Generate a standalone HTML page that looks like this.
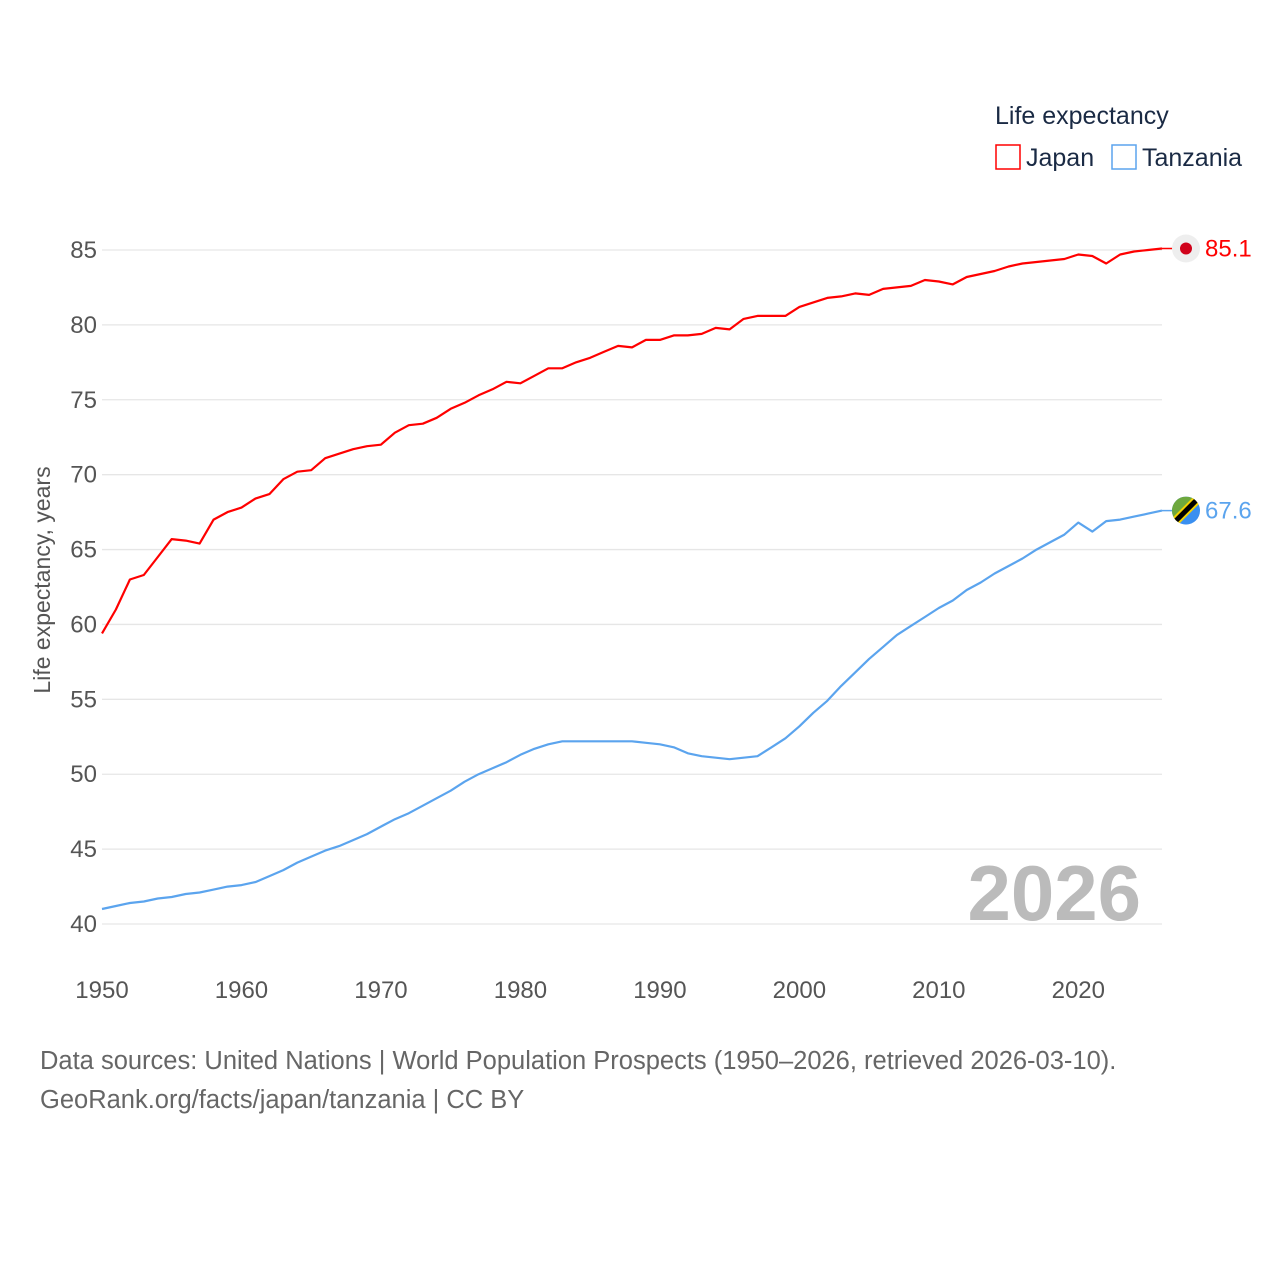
<!DOCTYPE html>
<html><head><meta charset="utf-8"><style>
body{margin:0;background:#fff;font-family:"Liberation Sans",sans-serif}
svg text{font-family:"Liberation Sans",sans-serif}
</style></head><body>
<svg width="1280" height="1280" viewBox="0 0 1280 1280">
<g id="grid"></g>
<g id="yticks"></g>
<g id="xticks"></g>
<text x="50" y="580" transform="rotate(-90 50 580)" text-anchor="middle" font-size="23" fill="#555">Life expectancy, years</text>
<text x="1141" y="920" text-anchor="end" font-size="78" font-weight="bold" fill="#bbb">2026</text>
<g id="series"></g>
<g>
<text x="995" y="124" font-size="25" fill="#1a2a44">Life expectancy</text>
<g><rect x="996" y="145" width="24" height="24" fill="none" stroke="#f00" stroke-width="1.5"/><text x="1026" y="166" font-size="25" fill="#1a2a44">Japan</text></g>
<g><rect x="1112" y="145" width="24" height="24" fill="none" stroke="#5ba4ee" stroke-width="1.5"/><text x="1142" y="166" font-size="25" fill="#1a2a44">Tanzania</text></g>
</g>
<text x="40" y="1069" font-size="25.5" fill="#666">Data sources: United Nations | World Population Prospects (1950–2026, retrieved 2026-03-10).</text>
<text x="40" y="1108" font-size="25.5" fill="#666">GeoRank.org/facts/japan/tanzania | CC BY</text>
</svg>
<script>
const years=[];for(let y=1950;y<=2026;y++)years.push(y);
const japan=[59.4,61.0,63.0,63.3,64.5,65.7,65.6,65.4,67.0,67.5,67.8,68.4,68.7,69.7,70.2,70.3,71.1,71.4,71.7,71.9,72.0,72.8,73.3,73.4,73.8,74.4,74.8,75.3,75.7,76.2,76.1,76.6,77.1,77.1,77.5,77.8,78.2,78.6,78.5,79.0,79.0,79.3,79.3,79.4,79.8,79.7,80.4,80.6,80.6,80.6,81.2,81.5,81.8,81.9,82.1,82.0,82.4,82.5,82.6,83.0,82.9,82.7,83.2,83.4,83.6,83.9,84.1,84.2,84.3,84.4,84.7,84.6,84.1,84.7,84.9,85.0,85.1];
const tanzania=[41.0,41.2,41.4,41.5,41.7,41.8,42.0,42.1,42.3,42.5,42.6,42.8,43.2,43.6,44.1,44.5,44.9,45.2,45.6,46.0,46.5,47.0,47.4,47.9,48.4,48.9,49.5,50.0,50.4,50.8,51.3,51.7,52.0,52.2,52.2,52.2,52.2,52.2,52.2,52.1,52.0,51.8,51.4,51.2,51.1,51.0,51.1,51.2,51.8,52.4,53.2,54.1,54.9,55.9,56.8,57.7,58.5,59.3,59.9,60.5,61.1,61.6,62.3,62.8,63.4,63.9,64.4,65.0,65.5,66.0,66.8,66.2,66.9,67.0,67.2,67.4,67.6];
const yTicks=[40,45,50,55,60,65,70,75,80,85];
const xTicks=[1950,1960,1970,1980,1990,2000,2010,2020];
const NS="http://www.w3.org/2000/svg";
const X=v=>102+(v-1950)*(1060/76);
const Y=v=>250+(85-v)*(674/45);
function mk(t,a,p){const e=document.createElementNS(NS,t);for(const k in a)e.setAttribute(k,a[k]);p.appendChild(e);return e;}
const grid=document.getElementById('grid'),yt=document.getElementById('yticks'),xt=document.getElementById('xticks'),ser=document.getElementById('series');
yTicks.forEach(v=>{
const l=mk('line',{x1:102,x2:1162,y1:Y(v),y2:Y(v),stroke:'#e6e6e6','stroke-width':1.3},grid);


const t=mk('text',{x:97,y:Y(v)+8,'text-anchor':'end','font-size':24,fill:'#555'},yt);t.textContent=v;


});
xTicks.forEach(v=>{
const t=mk('text',{x:X(v),y:998,'text-anchor':'middle','font-size':24,fill:'#555'},xt);t.textContent=v;


});
function line(data,col,name){
const p=mk('path',{d:data.map((v,i)=>(i?'L':'M')+X(years[i]).toFixed(1)+','+Y(v).toFixed(1)).join(''),fill:'none',stroke:col,'stroke-width':2.2,'stroke-linejoin':'round'},ser);


const last=data[data.length-1],ly=Y(last),lx=X(years[years.length-1]);
mk('line',{x1:lx,x2:lx+12,y1:ly,y2:ly,stroke:col,'stroke-width':1.5},ser);
const t=mk('text',{x:lx+43,y:ly+8,'font-size':24,fill:col},ser);t.textContent=last.toFixed(1);


return [lx+24,ly];
}
const [jx,jy]=line(japan,'#f00','japan');
const [tx,ty]=line(tanzania,'#5ba4ee','tanzania');
const f1=mk('g',{},ser);


mk('circle',{cx:jx,cy:jy,r:14,fill:'#eee'},f1);mk('circle',{cx:jx,cy:jy,r:6,fill:'#d0021b'},f1);
const f2=mk('g',{},ser);


mk('clipPath',{id:'tc'},f2);mk('circle',{cx:tx,cy:ty,r:14},f2.lastChild);
const g=mk('g',{'clip-path':'url(#tc)'},f2);
mk('rect',{x:tx-14,y:ty-14,width:28,height:28,fill:'#3a8ff0'},g);
mk('path',{d:`M${tx-14},${ty-14}L${tx+14},${ty-14}L${tx-14},${ty+14}Z`,fill:'#6ea83e'},g);
mk('line',{x1:tx-16,y1:ty+16,x2:tx+16,y2:ty-16,stroke:'#f5d200','stroke-width':9},g);
mk('line',{x1:tx-16,y1:ty+16,x2:tx+16,y2:ty-16,stroke:'#000','stroke-width':5},g);
</script>
</body></html>
